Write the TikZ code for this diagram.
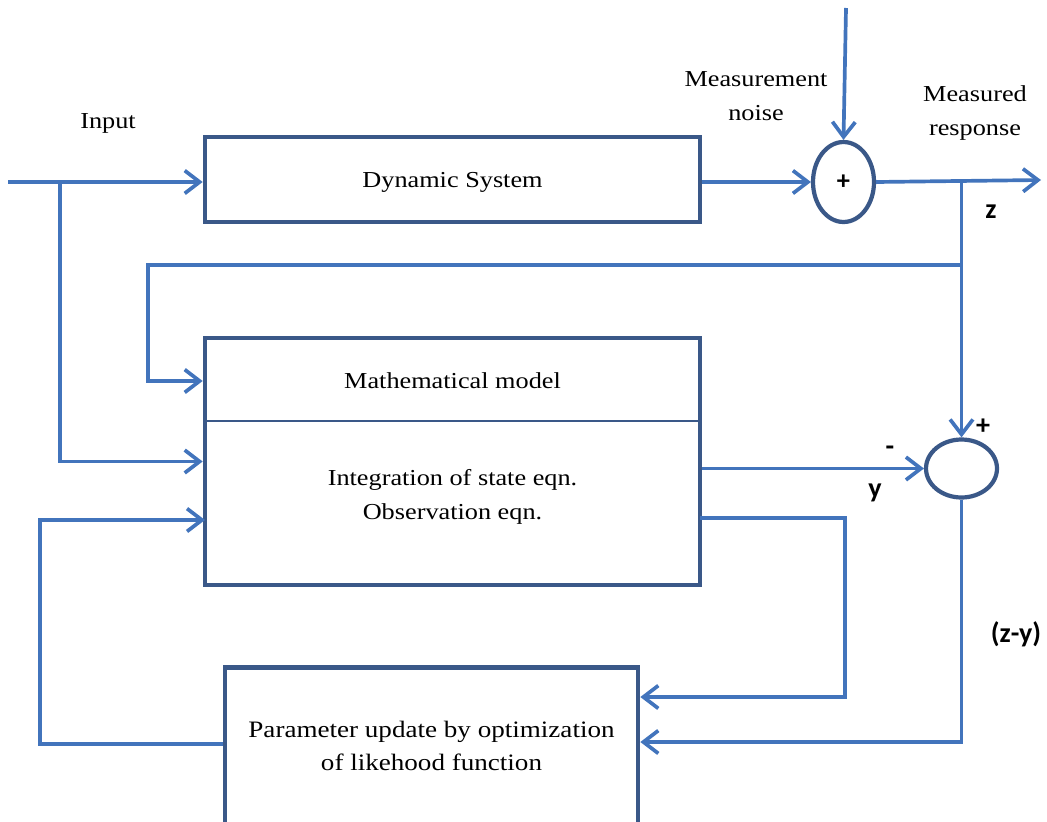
\documentclass[tikz,border=0pt]{standalone}
\usepackage{fontspec}
\setmainfont{Liberation Serif}[FakeStretch=1.15]
\newfontfamily\lblfont{Carlito}
\usetikzlibrary{arrows.meta,shapes.geometric}
\definecolor{linkblue}{RGB}{66,116,188}
\definecolor{boxblue}{RGB}{58,88,136}
\tikzset{
	link/.style={draw=linkblue, line width=2.1pt, arrows={-Straight Barb[length=8.5pt,width=13pt]}},
	block/.style={draw=boxblue, line width=2.7pt, rectangle, inner sep=0pt},
	summer/.style={draw=boxblue, line width=2.4pt, ellipse, inner sep=0pt},
	txt/.style={font=\fontsize{13}{19.3}\selectfont, align=center, inner sep=0pt},
	sign/.style={font=\lblfont\bfseries\fontsize{16}{18}\selectfont, inner sep=0pt},
}
\begin{document}
\begin{tikzpicture}[x=0.02cm, y=-0.02cm]
	\useasboundingbox (0,0) rectangle (1047,821);
	\clip (0,0) rectangle (1047,821);
	
	% blocks
	\node[block, minimum width=9.9cm, minimum height=1.7cm] (dyn) at (452.5,179.5) {};
	\node[txt] (dyntxt) at (452.5,182) {Dynamic System};
	\node[block, minimum width=9.9cm, minimum height=4.94cm] (mm) at (452.5,461.5) {};
	\coordinate (mmsplit) at (205,421);
	\draw[draw=boxblue, line width=1.1pt] (mmsplit) -- (mmsplit -| mm.east);
	\node[txt] (mmtitle) at (452.5,381) {Mathematical model};
	\node[txt] (mmbody) at (452.5,497) {Integration of state eqn.\\Observation eqn.};
	\node[block, anchor=north, minimum width=8.26cm, minimum height=4.4cm] (param) at (431.5,665) {};
	\node[txt, font=\fontsize{13.4}{19}\selectfont] (paramtxt) at (431.5,746) {Parameter update by optimization\\of likehood function};
	
	% summing points
	\node[summer, minimum width=1.22cm, minimum height=1.6cm] (sum1) at (843.5,182) {\lblfont\bfseries\fontsize{15}{16}\selectfont +};
	\node[summer, minimum width=1.42cm, minimum height=1.16cm] (sum2) at (961.5,468.5) {};
	
	% labels
	\node[txt] (inlbl) at (108,123) {Input};
	\node[txt] (noiselbl) at (756,96) {Measurement\\noise};
	\node[txt] (resplbl) at (975,113) {Measured\\response};
	\node[sign] (zlbl) at (991,212) {z};
	\node[sign] (minuslbl) at (890,451) {-};
	\node[sign] (pluslbl) at (983,427) {+};
	\node[sign] (ylbl) at (875,493) {y};
	\node[sign] (zylbl) at (1016,634) {(z-y)};
	
	% connectors
	\coordinate (in) at (8,182);
	\coordinate (inbr) at (60,182);
	\coordinate (noise) at (846,8);
	\coordinate (out) at (1041,180);
	\coordinate (ztap) at (961.5,180);
	\coordinate (fbtap) at (961.5,265);
	\coordinate (fbturn) at (148,265);
	\coordinate (mmout) at (700,518);
	\coordinate (pturn) at (845,697);
	\coordinate (eturn) at (961.5,742);
	\coordinate (lturn) at (40,744);
	\coordinate (mmin) at (205,520);
	
	\draw[link] (in) -- (dyn.west |- in);
	\draw[link] (inbr) |- (mm.west);
	\draw[link] (dyn.east |- sum1.west) -- (sum1.west);
	\draw[link] (noise) -- (sum1.north);
	\draw[link] (sum1.east) -- (out);
	\draw[link] (ztap) -- (sum2.north);
	\draw[link] (fbtap) -- (fbturn) |- (mm.west |- mmtitle);
	\draw[link] (mm.east |- sum2.west) -- (sum2.west);
	\draw[link] (mmout) -| (pturn) -- (pturn -| param.east);
	\draw[link] (sum2.south) |- (param.east |- eturn);
	\draw[link] (param.west |- lturn) -- (lturn) |- (mmin);
\end{tikzpicture}
\end{document}
